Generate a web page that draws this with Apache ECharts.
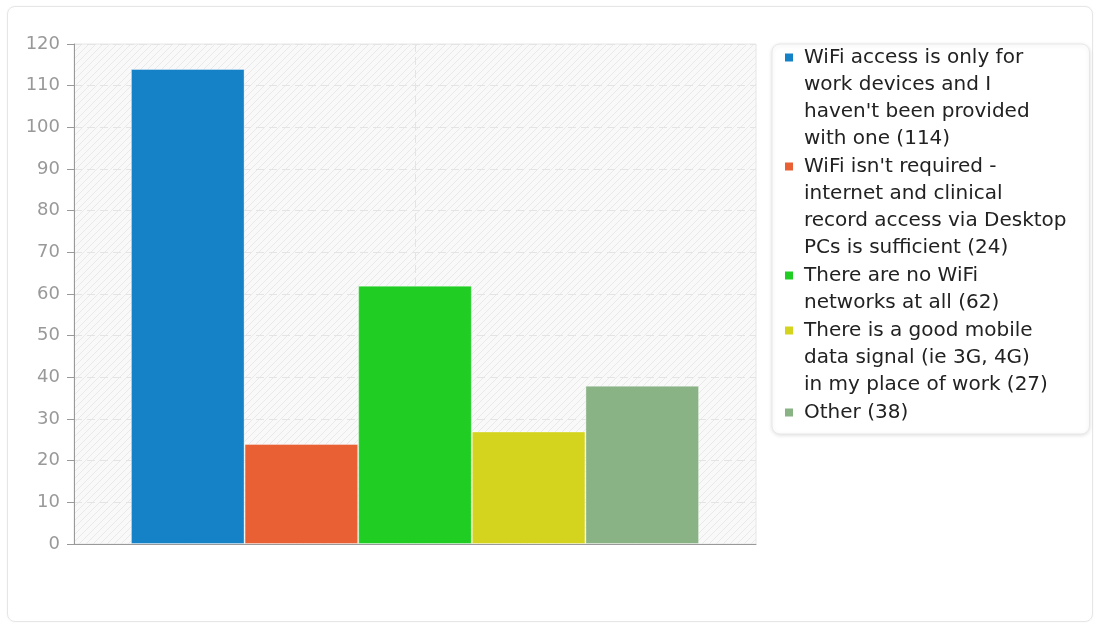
<!DOCTYPE html>
<html>
<head>
<meta charset="utf-8">
<script src="https://cdn.jsdelivr.net/npm/echarts@6/dist/echarts.min.js"></script>
<style>
  html, body { margin: 0; padding: 0; background: #fff; }
  #card { position: absolute; left: 7px; top: 6px; width: 1084px; height: 614px;
          border: 1px solid #e6e6e6; border-radius: 8px; box-shadow: 0 0 2px rgba(0,0,0,0.06); }
  #chart { position: absolute; left: 0; top: 0; width: 1098px; height: 624px; }
</style>
</head>
<body>
<div id="card"></div>
<div id="chart"></div>
<script>
// ---- data ----
const categories = [''];
const seriesNames = [
  "WiFi access is only for work devices and I haven't been provided with one",
  "WiFi isn't required - internet and clinical record access via Desktop PCs is sufficient",
  "There are no WiFi networks at all",
  "There is a good mobile data signal (ie 3G, 4G) in my place of work",
  "Other"
];
const seriesValues = [114, 24, 62, 27, 38];
const seriesColors = ['#1582c8', '#e86034', '#20cd22', '#d4d41e', '#89b384'];
const yMin = 0, yMax = 120, yInterval = 10;

// ---- helpers ----
function wrapByChars(text, maxChars) {
  const words = text.split(' ');
  const lines = [];
  let cur = '';
  words.forEach(w => {
    const cand = cur ? cur + ' ' + w : w;
    if (cand.length > maxChars && cur) { lines.push(cur); cur = w; }
    else cur = cand;
  });
  if (cur) lines.push(cur);
  return lines;
}

function hatchPattern() {
  const s = 7;
  const c = document.createElement('canvas');
  c.width = s; c.height = s;
  const ctx = c.getContext('2d');
  ctx.fillStyle = '#f9f9f9';
  ctx.fillRect(0, 0, s, s);
  ctx.strokeStyle = '#e9e9e9';
  ctx.lineWidth = 1;
  ctx.beginPath();
  ctx.moveTo(0, s); ctx.lineTo(s, 0);
  ctx.moveTo(-1, 1); ctx.lineTo(1, -1);
  ctx.moveTo(s - 1, s + 1); ctx.lineTo(s + 1, s - 1);
  ctx.stroke();
  return { image: c, repeat: 'repeat' };
}

const legendLabels = seriesNames.map((n, i) => n + ' (' + seriesValues[i] + ')');

const LH = 27;
const rich = {
  t: { fontSize: 20, lineHeight: LH, color: '#222', fontFamily: 'DejaVu Sans' },
  s: { width: 11, height: 8, lineHeight: LH },
  g: { width: 19, height: 8, lineHeight: LH }
};
seriesColors.forEach((c, i) => {
  rich['m' + i] = { width: 8, height: 8, backgroundColor: c, lineHeight: LH };
});

const chart = echarts.init(document.getElementById('chart'), null, { renderer: 'canvas' });

const option = {
  animation: false,
  textStyle: { fontFamily: 'DejaVu Sans' },
  grid: {
    left: 74, top: 44, right: 342, bottom: 80,
    show: true,
    backgroundColor: hatchPattern(),
    borderColor: '#e6e6e6',
    borderWidth: 1
  },
  legend: {
    orient: 'vertical',
    left: 772,
    top: 44,
    itemWidth: 0,
    itemHeight: 0,
    itemGap: 1,
    padding: [0, 23, 8, 7],
    backgroundColor: '#fff',
    borderColor: '#e8e8e8',
    borderWidth: 1,
    borderRadius: 8,
    shadowBlur: 4,
    shadowColor: 'rgba(0,0,0,0.12)',
    shadowOffsetY: 1,
    selectedMode: false,
    data: seriesNames,
    formatter: function (name) {
      const i = seriesNames.indexOf(name);
      const lines = wrapByChars(legendLabels[i], 25);
      let out = '{m' + i + '|}{s|}{t|' + lines[0] + '}';
      for (let k = 1; k < lines.length; k++) out += '\n{g|}{t|' + lines[k] + '}';
      return out;
    },
    textStyle: { rich: rich, fontSize: 20, lineHeight: LH, color: '#222' }
  },
  xAxis: [
    {
      type: 'category',
      data: categories,
      axisLine: { show: true, lineStyle: { color: '#999', width: 1 } },
      axisTick: { show: false },
      axisLabel: { show: false },
      splitLine: { show: false }
    },
    {
      type: 'value',
      position: 'top',
      min: 0, max: 2, interval: 1,
      axisLine: { show: false },
      axisTick: { show: false },
      axisLabel: { show: false },
      splitLine: { show: true, showMinLine: false, showMaxLine: false,
                   lineStyle: { color: '#e4e4e4', type: [8, 5], width: 1 } }
    }
  ],
  yAxis: {
    type: 'value',
    min: yMin, max: yMax, interval: yInterval,
    axisLine: { show: true, lineStyle: { color: '#999', width: 1 } },
    axisTick: { show: true, length: 7, lineStyle: { color: '#999' } },
    axisLabel: { color: '#999', fontSize: 18, margin: 14, fontFamily: 'DejaVu Sans' },
    splitLine: { show: true, lineStyle: { color: '#e4e4e4', type: [8, 5], width: 1 } }
  },
  series: seriesNames.map((n, i) => ({
    name: n,
    type: 'bar',
    xAxisIndex: 0,
    barGap: '0%',
    barCategoryGap: '16.7%',
    data: [seriesValues[i]],
    itemStyle: { color: seriesColors[i], borderColor: 'rgba(255,255,255,0.35)', borderWidth: 1 }
  }))
};

chart.setOption(option);
</script>
</body>
</html>
